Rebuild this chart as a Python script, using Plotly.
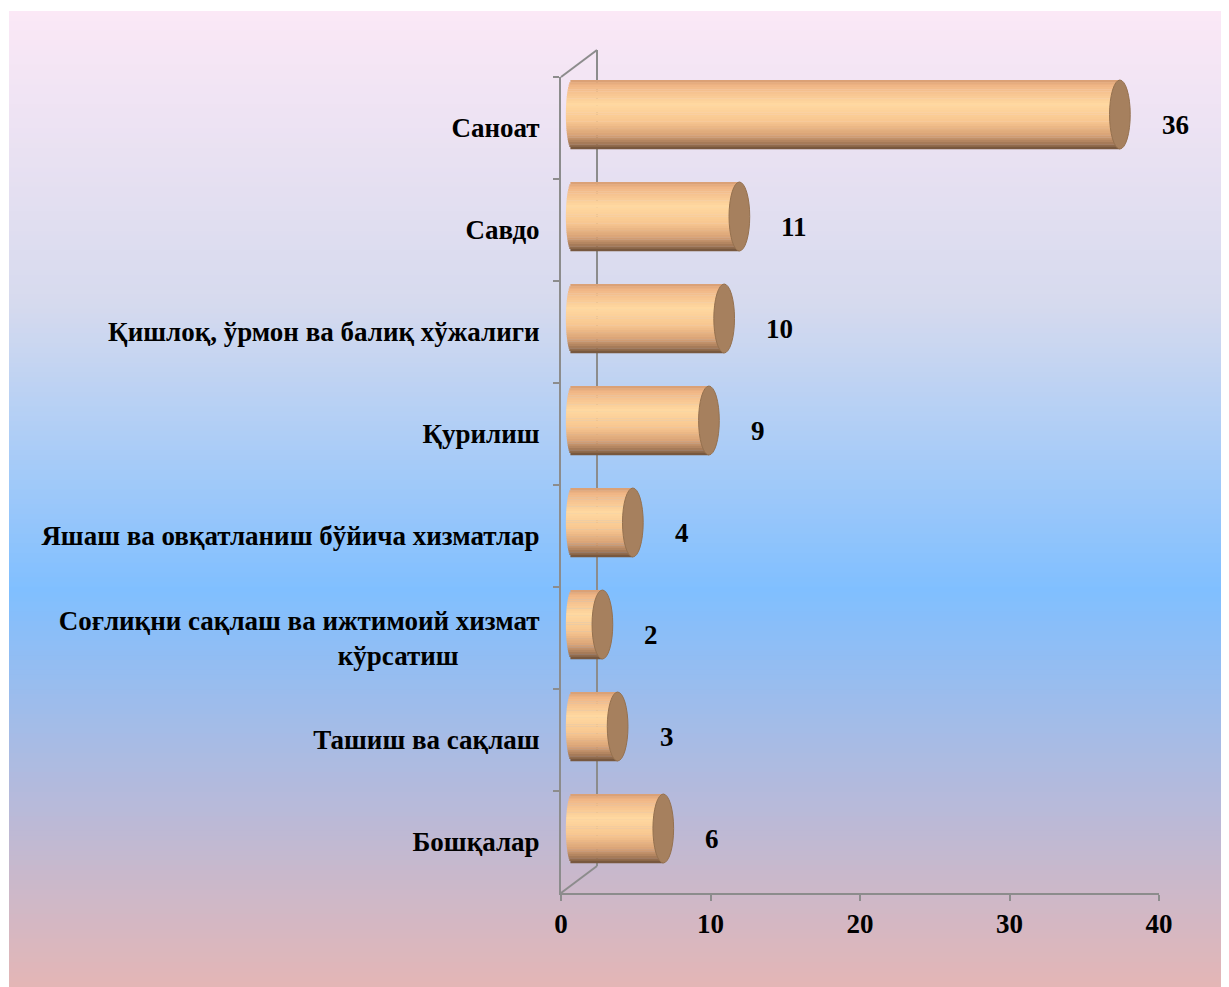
import math
import plotly.graph_objects as go

# ---------------- data ----------------
categories = [
    "Саноат",
    "Савдо",
    "Қишлоқ, ўрмон ва балиқ хўжалиги",
    "Қурилиш",
    "Яшаш ва овқатланиш бўйича хизматлар",
    "Соғлиқни сақлаш ва ижтимоий хизмат<br>кўрсатиш" + "\u00a0" * 12,
    "Ташиш ва сақлаш",
    "Бошқалар",
]
values = [36, 11, 10, 9, 4, 2, 3, 6]
x_ticks = [0, 10, 20, 30, 40]

# ---------------- style ----------------
W, H = 1229, 987
OFF = 8                                   # page body margin
L, R, T, B = 561, 1159, 77, 893          # front plot-area frame (page px)
DX, DY = 36, 27                          # 3-D depth offset (px)
FONT = "Liberation Serif"
FS = 27
GRAY = "#8c8c8c"
BAR_H = 0.676
N_STRIPS = 30
LEFT_BULGE = 0.4                         # rounded back end of cylinder (axis units)

cyl_stops = [
    (0.00, (0xD6, 0x9C, 0x72)),
    (0.08, (0xF0, 0xB6, 0x86)),
    (0.35, (0xFF, 0xD8, 0xA0)),
    (0.60, (0xF8, 0xC6, 0x90)),
    (0.80, (0xD8, 0xA2, 0x76)),
    (0.93, (0xA0, 0x76, 0x56)),
    (1.00, (0x6C, 0x4F, 0x38)),
]
bg_stops = [
    (0.00, (0xFB, 0xE8, 0xF6)),
    (0.30, (0xD6, 0xDA, 0xEE)),
    (0.593, (0x80, 0xBF, 0xFF)),
    (0.80, (0xB4, 0xBA, 0xDC)),
    (1.00, (0xE4, 0xB6, 0xB6)),
]


def interp(stops, t):
    for (t0, c0), (t1, c1) in zip(stops[:-1], stops[1:]):
        if t <= t1:
            f = (t - t0) / (t1 - t0) if t1 > t0 else 0
            return "rgb(%d,%d,%d)" % tuple(round(a + (b - a) * f) for a, b in zip(c0, c1))
    return "rgb(%d,%d,%d)" % stops[-1][1]


def px2paper(px, py):
    return (px - L) / (R - L), (B - py) / (B - T)


fig = go.Figure()

# anchor trace for the front (tick) subplot
fig.add_trace(go.Scatter(x=[0], y=[categories[0]], mode="markers",
                         marker=dict(opacity=0, size=1), hoverinfo="skip",
                         showlegend=False))

# cylinder bodies: horizontal shading strips, each ending at the value
sw = BAR_H / N_STRIPS
for i in range(N_STRIPS):
    t = (i + 0.5) / N_STRIPS
    base = -LEFT_BULGE * math.sqrt(max(0.0, 1 - (2 * t - 1) ** 2))
    fig.add_trace(go.Bar(
        x=[v - base for v in values], y=categories, orientation="h",
        base=base,
        width=sw * 1.15, offset=-BAR_H / 2 + i * sw,
        marker=dict(color=interp(cyl_stops, t), line=dict(width=0)),
        xaxis="x2", yaxis="y2", hoverinfo="skip", showlegend=False,
    ))

shapes = []
# background gradient
n_bg = 200
x0p, _ = px2paper(9, 0)
x1p, _ = px2paper(1227, 0)
top_px, bot_px = 11, 987
for k in range(n_bg):
    ya = top_px + (bot_px - top_px) * k / n_bg
    yb = top_px + (bot_px - top_px) * (k + 1) / n_bg + 0.8
    _, pa = px2paper(0, ya)
    _, pb = px2paper(0, yb)
    shapes.append(dict(type="rect", xref="paper", yref="paper", x0=x0p, x1=x1p,
                       y0=pb, y1=pa, fillcolor=interp(bg_stops, (k + 0.5) / n_bg),
                       line=dict(width=0), layer="below"))


# 3-D walls
def seg(p0, p1):
    a = px2paper(*p0)
    b = px2paper(*p1)
    return dict(type="line", xref="paper", yref="paper", x0=a[0], y0=a[1],
                x1=b[0], y1=b[1], line=dict(color=GRAY, width=2), layer="below")


shapes.append(seg((L, T), (L + DX, T - DY)))
shapes.append(seg((L + DX, T - DY), (L + DX, B - DY)))
shapes.append(seg((L, B), (L + DX, B - DY)))

# cylinder end caps
for i, v in enumerate(values):
    shapes.append(dict(type="circle", xref="x2", yref="y2",
                       x0=v - 0.68, x1=v + 0.68, y0=i - BAR_H / 2, y1=i + BAR_H / 2,
                       fillcolor="#a6805e", line=dict(color="#95714f", width=1),
                       layer="above"))

annotations = []
for i, v in enumerate(values):
    annotations.append(dict(x=v, y=categories[i], xref="x2", yref="y",
                            text=str(v), showarrow=False, xanchor="left",
                            xshift=40, yshift=3,
                            font=dict(family=FONT, size=FS, color="black", weight="bold")))

dshift = (DY / 2) / (B - T) * len(categories)
tickfont = dict(family=FONT, size=FS, color="black", weight="bold")
fig.update_layout(
    width=W, height=H,
    margin=dict(l=L - OFF, r=W - (R - OFF), t=T - OFF, b=H - (B - OFF), pad=0),
    paper_bgcolor="white", plot_bgcolor="rgba(0,0,0,0)",
    barmode="overlay",
    showlegend=False,
    shapes=shapes,
    annotations=annotations,
    xaxis=dict(range=[0, 40], tickvals=x_ticks, showgrid=False, zeroline=False,
               showline=True, linecolor=GRAY, linewidth=2,
               ticks="outside", ticklen=6, tickcolor=GRAY, tickwidth=2,
               tickfont=tickfont),
    xaxis2=dict(overlaying="x", range=[-0.72, 38.57], visible=False),
    yaxis=dict(type="category", categoryorder="array", categoryarray=categories,
               range=[len(categories) - 0.5, -0.5], showgrid=False, zeroline=False,
               showline=True, linecolor=GRAY, linewidth=2,
               ticks="outside", ticklen=6, tickcolor=GRAY, tickwidth=2,
               tickson="boundaries", ticklabelstandoff=14,
               tickfont=tickfont),
    yaxis2=dict(type="category", categoryorder="array", categoryarray=categories,
                overlaying="y", visible=False,
                range=[len(categories) - 0.5 + dshift, -0.5 + dshift]),
)

fig.write_html("out.html")
